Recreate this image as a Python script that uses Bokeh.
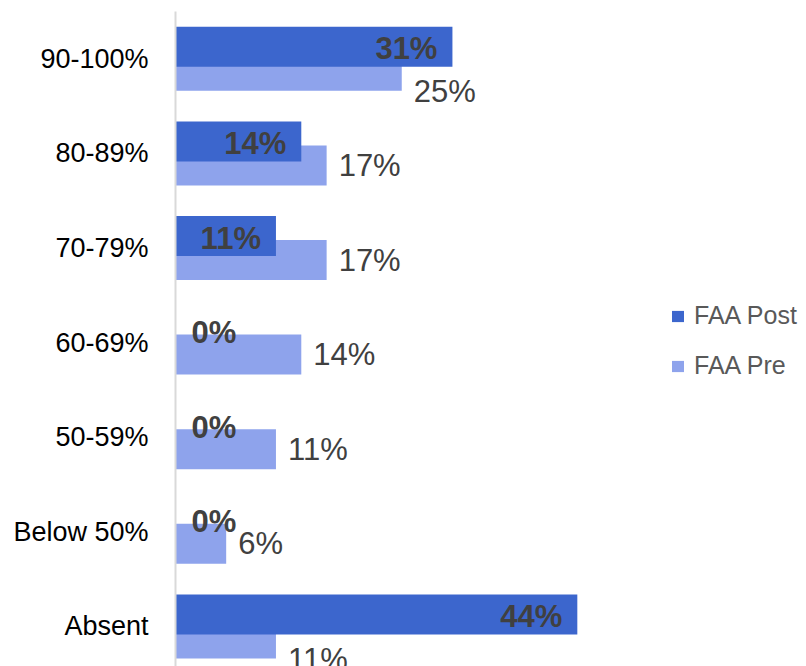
from bokeh.plotting import figure
from bokeh.models import Range1d, FixedTicker, Legend, LegendItem, ColumnDataSource
from bokeh.core.properties import value
from bokeh.embed import file_html
from bokeh.resources import INLINE

categories = ["90-100%", "80-89%", "70-79%", "60-69%", "50-59%", "Below 50%", "Absent"]
series_names = ["FAA Post", "FAA Pre"]
post_values = [30.6, 13.9, 11.1, 0.0, 0.0, 0.0, 44.4]
pre_values = [25.0, 16.7, 16.7, 13.9, 11.1, 5.6, 11.1]
post_labels = ["31%", "14%", "11%", "0%", "0%", "0%", "44%"]
pre_labels = ["25%", "17%", "17%", "14%", "11%", "6%", "11%"]

POST_COLOR = "#3C66CD"
PRE_COLOR = "#8EA3EC"
FONT = "Liberation Sans"

W, H = 806, 666
LEFT, TOP = 175, 11
PX_PER_PCT = 9.05
PX_PER_CAT = 94.6
frame_w = W - LEFT
frame_h = H - TOP

p = figure(width=W, height=H, output_backend="svg", toolbar_location=None,
           x_range=Range1d(0, frame_w / PX_PER_PCT),
           y_range=Range1d(-0.5 + frame_h / PX_PER_CAT, -0.5),
           x_axis_location=None,
           min_border_left=LEFT, min_border_right=0,
           min_border_top=TOP, min_border_bottom=0)
p.outline_line_color = None
p.xgrid.visible = False
p.ygrid.visible = False
p.background_fill_color = "white"
p.border_fill_color = "white"

off = 12 / PX_PER_CAT
bar_h = 40 / PX_PER_CAT
idx = list(range(len(categories)))

pre_src = ColumnDataSource(dict(
    y=[i + off for i in idx], v=pre_values, lab=pre_labels,
    yo=[21 if po > pr else 0 for po, pr in zip(post_values, pre_values)],
))
post_src = ColumnDataSource(dict(
    y=[i - off for i in idx], v=post_values, lab=post_labels,
    align=["right" if v > 0 else "left" for v in post_values],
    xo=[-15 if v > 0 else 16 for v in post_values],
))

pre_r = p.hbar(y="y", right="v", left=0, height=bar_h, source=pre_src,
               fill_color=PRE_COLOR, line_color=None)
post_r = p.hbar(y="y", right="v", left=0, height=bar_h, source=post_src,
                fill_color=POST_COLOR, line_color=None)

p.text(x="v", y="y", text="lab", source=pre_src, x_offset=12, y_offset="yo",
       text_align="left", text_baseline="middle", text_font=value(FONT),
       text_font_size="31px", text_color="#404040")
p.text(x="v", y="y", text="lab", source=post_src, x_offset="xo", y_offset=2,
       text_align="align", text_baseline="middle", text_font=value(FONT),
       text_font_size="31px", text_font_style="bold", text_color="#404040")

yax = p.yaxis[0]
yax.ticker = FixedTicker(ticks=idx)
yax.major_label_overrides = {i: c for i, c in zip(idx, categories)}
yax.major_label_text_font = FONT
yax.major_label_text_font_size = "27px"
yax.major_label_text_color = "#000000"
yax.major_label_standoff = 21
yax.major_tick_line_color = None
yax.minor_tick_line_color = None
yax.axis_line_color = "#D9D9D9"
yax.axis_line_width = 2

legend = Legend(items=[LegendItem(label=series_names[0], renderers=[post_r]),
                       LegendItem(label=series_names[1], renderers=[pre_r])],
                location=(495, 286), orientation="vertical",
                glyph_width=15, glyph_height=14, label_height=26,
                label_standoff=9, spacing=21, padding=0, margin=0,
                label_text_font=FONT, label_text_font_size="25px",
                label_text_color="#595959",
                border_line_color=None, background_fill_alpha=0)
p.add_layout(legend)

open("out.html", "w").write(file_html(p, INLINE))
